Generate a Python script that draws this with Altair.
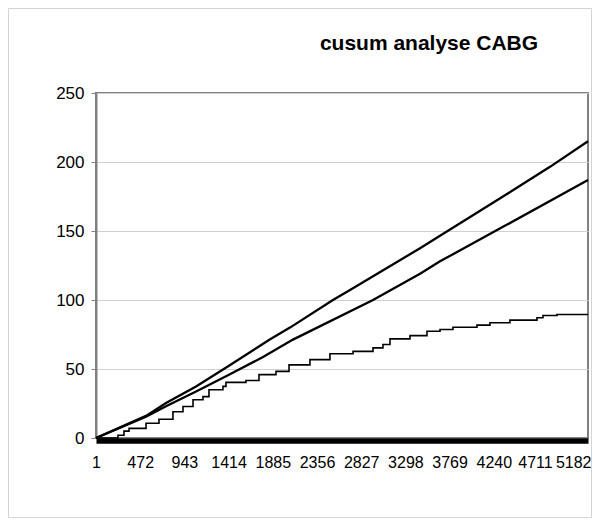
import altair as alt
import pandas as pd

title_text = "cusum analyse CABG"
x_tick_values = [1, 472, 943, 1414, 1885, 2356, 2827, 3298, 3769, 4240, 4711, 5182]
y_tick_values = [0, 50, 100, 150, 200, 250]
x_max = 5244

upper_x = [1, 534, 747, 1067, 1418, 1844, 2068, 2526, 2708, 3454, 3667, 4338, 4839, 5244]
upper_y = [0, 16, 25.4, 37.4, 52.4, 71, 80, 100, 107.3, 137.5, 146.5, 175, 196.5, 215]

middle_x = [1, 534, 747, 1067, 1418, 1781, 2100, 2953, 3454, 3667, 4338, 5244]
middle_y = [0, 15.5, 23, 33.7, 45.8, 58.7, 71.3, 100, 119, 128, 153, 187]

lower_x = [1, 235, 299, 353, 534, 672, 821, 928, 1035, 1141, 1205, 1354, 1386,
           1599, 1738, 1919, 2058, 2281, 2494, 2740, 2953, 3059, 3134, 3347,
           3528, 3667, 3805, 4061, 4199, 4412, 4700, 4764, 4913, 5244]
lower_y = [0, 2, 5, 7, 10.7, 13.6, 19, 22.8, 27.7, 30, 35, 37.4, 40.3,
           41.7, 45.9, 48.3, 53, 56.8, 61, 62.8, 65.3, 67.7, 71.8, 74.2,
           77.4, 78.6, 80.3, 81.8, 83.5, 85.4, 87.1, 88.8, 89.5, 89.5]

FONT = "Liberation Sans"

x_enc = alt.X(
    "x:Q",
    scale=alt.Scale(domain=[1, x_max], nice=False, zero=False),
    axis=alt.Axis(
        values=x_tick_values, title=None, grid=False, ticks=False, tickSize=0,
        labelFlush=False, labelOverlap=False, domainColor="black", domainWidth=5.5,
        offset=2.5, labelPadding=27, labelBaseline="alphabetic", labelFontSize=16,
        labelFont=FONT, labelColor="black", format="d",
        labelOffset={
            "condition": [
                {"test": "datum.value == 5182", "value": -9},
                {"test": "datum.value == 4711", "value": -3},
            ],
            "value": 0,
        },
    ),
)
y_enc = alt.Y(
    "y:Q",
    scale=alt.Scale(domain=[0, 250], nice=False),
    axis=alt.Axis(
        values=y_tick_values, title=None, grid=True, gridColor="#d0d0d0", gridWidth=1,
        tickColor="#808080", tickSize=5, tickWidth=1, domainColor="#808080",
        domainWidth=2, labelPadding=7, labelFontSize=17, labelFont=FONT,
        labelColor="black",
    ),
)

upper_df = pd.DataFrame({"x": upper_x, "y": upper_y})
middle_df = pd.DataFrame({"x": middle_x, "y": middle_y})
lower_df = pd.DataFrame({"x": lower_x, "y": lower_y})

upper = alt.Chart(upper_df).mark_line(color="black", strokeWidth=2.3).encode(x=x_enc, y=y_enc)
middle = alt.Chart(middle_df).mark_line(color="black", strokeWidth=2.3).encode(x=x_enc, y=y_enc)
lower = alt.Chart(lower_df).mark_line(color="black", strokeWidth=1.6, interpolate="step-after").encode(x=x_enc, y=y_enc)

title = alt.Chart(pd.DataFrame({"t": [title_text]})).mark_text(
    font=FONT, fontSize=21, fontWeight="bold", align="center", baseline="alphabetic", color="black"
).encode(text="t:N", x=alt.value(333), y=alt.value(-43.5))

frame = alt.Chart(pd.DataFrame({"a": [0]})).mark_rect(
    fill=None, stroke="#d4d4d4", strokeWidth=1
).encode(x=alt.value(-87.5), x2=alt.value(495.5), y=alt.value(-84.5), y2=alt.value(424.5))

chart = alt.layer(frame, upper, middle, lower, title).properties(
    width=492,
    height=345,
    padding={"left": 88, "top": 85, "right": 4, "bottom": 80},
    autosize=alt.AutoSizeParams(type="none"),
    background="white",
).configure_view(stroke="#808080", strokeWidth=2)

chart.save("out.html", embed_options={"renderer": "svg", "actions": False})
